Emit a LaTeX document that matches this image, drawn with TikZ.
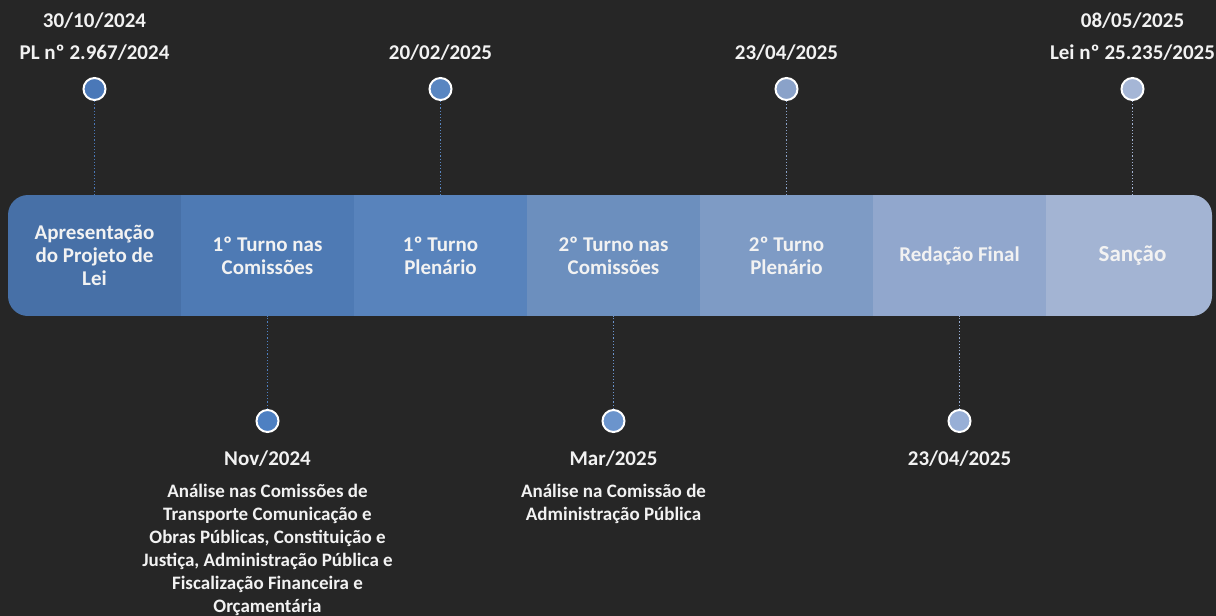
\documentclass[tikz,border=0pt]{standalone}
\usepackage{fontspec}
\setmainfont{Carlito}
\usetikzlibrary{positioning}

\definecolor{fundo}{HTML}{262626}
\definecolor{texto}{HTML}{F2F2F2}
\definecolor{etapaA}{HTML}{4770A7}
\definecolor{etapaB}{HTML}{4E7AB4}
\definecolor{etapaC}{HTML}{5883BC}
\definecolor{etapaD}{HTML}{6C8FBE}
\definecolor{etapaE}{HTML}{7E9BC5}
\definecolor{etapaF}{HTML}{91A7CD}
\definecolor{etapaG}{HTML}{A3B4D3}
\definecolor{marcoA}{HTML}{4A78B8}
\definecolor{marcoB}{HTML}{4E80C2}
\definecolor{marcoC}{HTML}{5986C1}
\definecolor{marcoD}{HTML}{6B94CC}
\definecolor{marcoE}{HTML}{8AA2C9}
\definecolor{marcoF}{HTML}{98AFD6}
\definecolor{marcoG}{HTML}{A5B6D6}

\begin{document}
\begin{tikzpicture}[x=1pt, y=1pt,
			% 时间轴上的一段
			etapa/.style={rectangle, minimum width=173pt, minimum height=121pt, align=center, inner sep=0pt, outer sep=0pt, text=texto, font=\bfseries\fontsize{21}{23}\selectfont},
			% 白边的圆点
			marco/.style={circle, draw=white, line width=2pt, minimum size=22pt, inner sep=0pt, fill=#1},
			% 日期
			datalabel/.style={align=center, inner sep=0pt, text=texto, font=\bfseries\fontsize{21}{23}\selectfont},
			% 说明文字
			descricao/.style={align=center, inner sep=0pt, text=texto, font=\bfseries\fontsize{19}{23}\selectfont},
			% 圆点和时间轴之间的点线
			ligacao/.style={dotted, line width=1.2pt, draw=#1}
		]
		\fill[fundo] (0,0) rectangle (1216,-616);
		\useasboundingbox (0,0) rectangle (1216,-616);

		%Nodes
		\begin{scope}
			\clip[rounded corners=20pt] (8,-195) rectangle (1212,-316);
			\node[etapa, fill=etapaA]   (s1)    at (94.5,-255.5)        {Apresentação\\do Projeto de\\Lei};
			\node[etapa, fill=etapaB]   (s2)    [right=0pt of s1]       {1º Turno nas\\Comissões};
			\node[etapa, fill=etapaC]   (s3)    [right=0pt of s2]       {1º Turno\\Plenário};
			\node[etapa, fill=etapaD]   (s4)    [right=0pt of s3]       {2º Turno nas\\Comissões};
			\node[etapa, fill=etapaE]   (s5)    [right=0pt of s4]       {2º Turno\\Plenário};
			\node[etapa, fill=etapaF]   (s6)    [right=0pt of s5]       {Redação Final};
			\node[etapa, fill=etapaG, font=\bfseries\fontsize{23}{26}\selectfont]
			                            (s7)    [right=0pt of s6]       {Sanção};
		\end{scope}

		\node[marco=marcoA]         (d1)    [above=94pt of s1.north]    {};
		\node[marco=marcoC]         (d3)    [above=94pt of s3.north]    {};
		\node[marco=marcoE]         (d5)    [above=94pt of s5.north]    {};
		\node[marco=marcoG]         (d7)    [above=94pt of s7.north]    {};
		\node[marco=marcoB]         (b2)    [below=93pt of s2.south]    {};
		\node[marco=marcoD]         (b4)    [below=93pt of s4.south]    {};
		\node[marco=marcoF]         (b6)    [below=93pt of s6.south]    {};

		\node[datalabel]            (t1)    [above=16pt of d1]          {30/10/2024\\[9pt]PL nº 2.967/2024};
		\node[datalabel]            (t3)    [above=16pt of d3]          {20/02/2025};
		\node[datalabel]            (t5)    [above=16pt of d5]          {23/04/2025};
		\node[datalabel]            (t7)    [above=16pt of d7]          {08/05/2025\\[9pt]Lei nº 25.235/2025};
		\node[datalabel]            (n2)    [below=18pt of b2]          {Nov/2024};
		\node[datalabel]            (n4)    [below=18pt of b4]          {Mar/2025};
		\node[datalabel]            (n6)    [below=18pt of b6]          {23/04/2025};
		\node[descricao]            (a2)    [below=17pt of n2]          {Análise nas Comissões de\\Transporte Comunicação e\\Obras Públicas, Constituição e\\Justiça, Administração Pública e\\Fiscalização Financeira e\\Orçamentária};
		\node[descricao]            (a4)    [below=17pt of n4]          {Análise na Comissão de\\Administração Pública};

		%Lines
		\draw[ligacao=marcoA]   (d1)    --      (s1.north);
		\draw[ligacao=marcoC]   (d3)    --      (s3.north);
		\draw[ligacao=marcoE]   (d5)    --      (s5.north);
		\draw[ligacao=marcoG]   (d7)    --      (s7.north);
		\draw[ligacao=marcoB]   (b2)    --      (s2.south);
		\draw[ligacao=marcoD]   (b4)    --      (s4.south);
		\draw[ligacao=marcoF]   (b6)    --      (s6.south);
	\end{tikzpicture}
\end{document}
